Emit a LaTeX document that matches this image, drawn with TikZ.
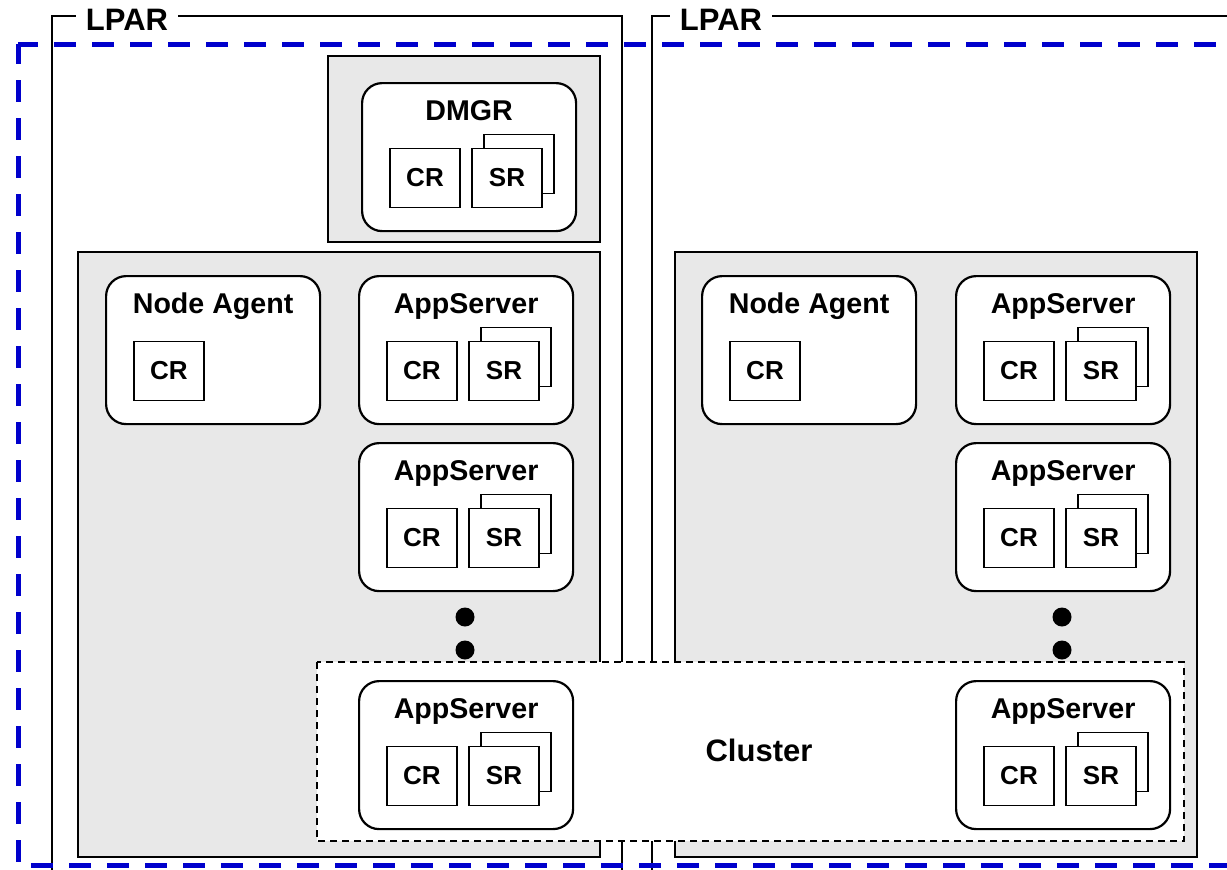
\documentclass[tikz,border=0pt]{standalone}
\usepackage{fontspec}
\setmainfont{Liberation Sans}
\usepackage{tikz}
\usetikzlibrary{positioning}
\definecolor{hostGrey}{HTML}{E8E8E8}
\definecolor{cellBlue}{HTML}{0000CC}
\tikzset{
  lparframe/.style={draw=black, line width=1pt},
  lparlabel/.style={fill=white, inner sep=5pt,
    font=\bfseries\fontsize{15.5}{18}\selectfont},
  hostbox/.style={draw=black, fill=hostGrey, line width=1pt},
  srvbox/.style={rectangle, rounded corners=10pt, draw=black, fill=white,
    line width=1.1pt, minimum width=107pt, minimum height=74pt,
    inner sep=0pt},
  srvtitle/.style={font=\bfseries\fontsize{14.3}{17}\selectfont,
    inner sep=0pt, anchor=base},
  regbox/.style={rectangle, draw=black, fill=white, line width=0.9pt,
    minimum width=35pt, minimum height=29.5pt, inner sep=0pt,
    font=\bfseries\fontsize{13}{15}\selectfont},
  moredot/.style={circle, fill=black, minimum size=9.5pt, inner sep=0pt},
  clusterbox/.style={draw=black, fill=white, line width=0.75pt,
    dash pattern=on 3.5pt off 2.5pt},
  clustertitle/.style={font=\bfseries\fontsize{15.5}{18}\selectfont},
  cellbound/.style={draw=cellBlue, line width=2.5pt,
    dash pattern=on 11pt off 8pt, dash phase=1pt},
}
% server box with title and CR, top left corner at (#2,#3)
\newcommand{\srvnode}[4]{%
  \node[srvbox, anchor=north west] (#1) at (#2,#3) {};
  \node[srvtitle] (#1-title) at ([yshift=-19pt]#1.north) {#4};
  \node[regbox] (#1-cr) at ([xshift=32pt,yshift=-48pt]#1.north west) {CR};
}
% stacked SR boxes
\newcommand{\srnode}[1]{%
  \node[regbox] (#1-srback) at ([xshift=79pt,yshift=-41pt]#1.north west) {};
  \node[regbox] (#1-sr) at ([xshift=73pt,yshift=-48pt]#1.north west) {SR};
}

\begin{document}
\begin{tikzpicture}[x=0.5pt, y=-0.5pt]
  \clip (0,0) rectangle (1227,869);
  % partitions
  \draw[lparframe] (52,16) rectangle (622,890);
  \draw[lparframe] (652,16) rectangle (1250,890);
  \node[lparlabel] (lparA) at (127,20) {LPAR};
  \node[lparlabel] (lparB) at (721,20) {LPAR};

  % deployment manager
  \draw[hostbox] (328,56) rectangle (600,242);
  \srvnode{dmgr}{361}{82}{DMGR}
  \srnode{dmgr}

  % node hosts
  \draw[hostbox] (78,252) rectangle (600,857);
  \draw[hostbox] (675,252) rectangle (1197,857);

  \srvnode{agentA}{105}{275}{Node Agent}
  \srvnode{srvA1}{358}{275}{AppServer}
  \srnode{srvA1}
  \srvnode{srvA2}{358}{442}{AppServer}
  \srnode{srvA2}
  \node[moredot] (dotA1) at (465,617) {};
  \node[moredot] (dotA2) at (465,650) {};

  \srvnode{agentB}{701}{275}{Node Agent}
  \srvnode{srvB1}{955}{275}{AppServer}
  \srnode{srvB1}
  \srvnode{srvB2}{955}{442}{AppServer}
  \srnode{srvB2}
  \node[moredot] (dotB1) at (1062,617) {};
  \node[moredot] (dotB2) at (1062,650) {};

  % cluster
  \draw[clusterbox] (317,662) rectangle (1184,841);
  \node[clustertitle] (cluster) at (759,750) {Cluster};
  \srvnode{srvA3}{358}{680}{AppServer}
  \srnode{srvA3}
  \srvnode{srvB3}{955}{680}{AppServer}
  \srnode{srvB3}

  % cell
  \draw[cellbound] (18,44) -- (1240,44);
  \draw[cellbound] (18,44) -- (18,865) -- (1240,865);
\end{tikzpicture}
\end{document}
